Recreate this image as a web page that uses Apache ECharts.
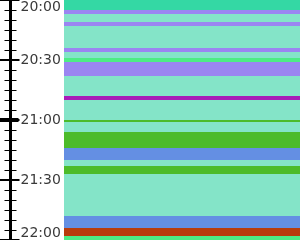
<!DOCTYPE html>
<html>
<head>
<meta charset="utf-8">
<script src="https://cdn.jsdelivr.net/npm/echarts@6/dist/echarts.min.js"></script>
<style>
  html, body { margin: 0; padding: 0; background: #fff; }
  #chart { width: 300px; height: 240px; }
</style>
</head>
<body>
<div id="chart"></div>
<script>
// minutes after 20:00
const segStart = [0, 5, 7, 11, 13, 24, 26, 29, 31, 38, 48, 50, 60, 61, 66, 74, 80, 83, 87, 108, 114, 118];
const segEnd   = [5, 7, 11, 13, 24, 26, 29, 31, 38, 48, 50, 60, 61, 66, 74, 80, 83, 87, 108, 114, 118, 120];
const segCat   = ['teal', 'purple', 'aqua', 'purple', 'aqua', 'purple', 'aqua', 'lime', 'purple', 'aqua', 'magenta',
                  'aqua', 'green', 'aqua', 'green', 'blue', 'aqua', 'green', 'aqua', 'blue', 'rust', 'lime'];
const catColors = {
  teal: '#34d8a4', purple: '#9b85f1', aqua: '#84e4c8', lime: '#4dec85',
  magenta: '#a81cb8', green: '#4cbb2a', blue: '#648fe3', rust: '#b83c0d'
};
const tickLabels = ['20:00', '20:30', '21:00', '21:30', '22:00'];

const chart = echarts.init(document.getElementById('chart'));

const baseAxis = {
  type: 'value', min: 0, max: 120, interval: 30, inverse: true,
  position: 'left', offset: 53.5, splitLine: { show: false }
};

chart.setOption({
  animation: false,
  grid: { left: 64, right: 0, top: 0, bottom: 0 },
  xAxis: { type: 'value', min: 0, max: 1, show: false },
  yAxis: [
    Object.assign({}, baseAxis, {
      axisLine: { show: true, onZero: false, lineStyle: { color: '#000', width: 3 } },
      axisTick: { show: true, length: 10.5, lineStyle: { color: '#000', width: 2 } },
      minorTick: { show: true, splitNumber: 6, length: 6, lineStyle: { color: '#000', width: 1 } },
      axisLabel: {
        inside: true, margin: 10, color: '#3a3a3a', fontFamily: 'DejaVu Sans', fontSize: 14,
        verticalAlignMinLabel: 'top', verticalAlignMaxLabel: 'bottom',
        formatter: v => tickLabels[Math.round(v / 30)]
      }
    }),
    Object.assign({}, baseAxis, {
      axisLine: { show: false, onZero: false },
      axisTick: { show: true, inside: true, length: 9, lineStyle: { color: '#000', width: 2 } },
      minorTick: { show: true, splitNumber: 6, length: 6, lineStyle: { color: '#000', width: 1 } },
      axisLabel: { show: false }
    }),
    // hour tick at 21:00, drawn thicker on both sides of the axis line
    Object.assign({}, baseAxis, {
      axisLine: { show: false, onZero: false },
      axisTick: { show: true, length: 10.5, customValues: [60], lineStyle: { color: '#000', width: 4 } },
      axisLabel: { show: false }
    }),
    Object.assign({}, baseAxis, {
      axisLine: { show: false, onZero: false },
      axisTick: { show: true, inside: true, length: 8, customValues: [60], lineStyle: { color: '#000', width: 4 } },
      axisLabel: { show: false }
    })
  ],
  series: [{
    type: 'custom',
    yAxisIndex: 0,
    encode: { y: [0, 1] },
    data: segStart.map((s, i) => [s, segEnd[i], segCat[i]]),
    renderItem: (params, api) => {
      const y0 = api.coord([0, api.value(0)])[1];
      const y1 = api.coord([0, api.value(1)])[1];
      const cs = params.coordSys;
      return {
        type: 'rect',
        shape: { x: cs.x, y: Math.min(y0, y1), width: cs.width, height: Math.abs(y1 - y0) },
        style: { fill: catColors[segCat[params.dataIndex]] }
      };
    }
  }]
});
</script>
</body>
</html>
